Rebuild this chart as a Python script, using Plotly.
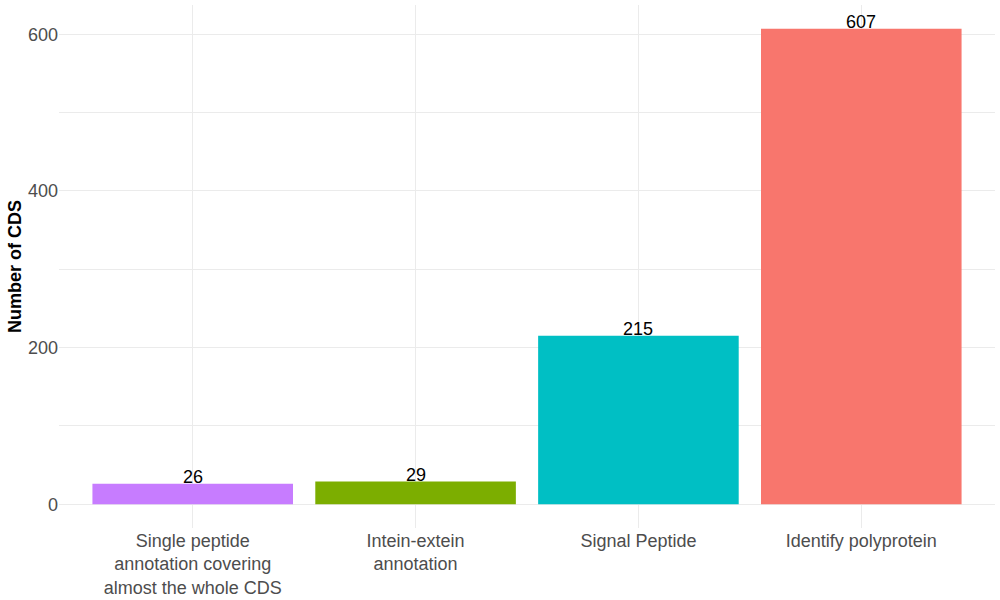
import plotly.graph_objects as go

categories = ["Single peptide<br>annotation covering<br>almost the whole CDS",
              "Intein-extein<br>annotation",
              "Signal Peptide",
              "Identify polyprotein"]
counts = [26, 29, 215, 607]
colors = ["#C77CFF", "#7CAE00", "#00BFC4", "#F8766D"]

fig = go.Figure(go.Bar(
    x=categories,
    y=counts,
    marker_color=colors,
    marker_line_width=0,
    width=0.9,
))

# count labels sitting on top of the bars
for c, v in zip(categories, counts):
    fig.add_annotation(x=c, y=v, text=str(v), showarrow=False,
                       yanchor="bottom", yshift=-5,
                       font=dict(size=18, color="black"))

fig.update_layout(
    width=1000, height=600,
    margin=dict(l=59, r=5, t=5, b=72),
    plot_bgcolor="white", paper_bgcolor="white",
    font=dict(family="Liberation Sans, Arial, sans-serif"),
    showlegend=False,
    xaxis=dict(
        range=[-0.6, 3.6],
        automargin=False,
        showgrid=True, gridcolor="#EBEBEB", gridwidth=1,
        zeroline=False, ticks="",
        tickfont=dict(size=18, color="#4D4D4D"),
    ),
    yaxis=dict(
        range=[-30.35, 637.35],
        automargin=False,
        tickvals=[0, 200, 400, 600],
        showgrid=True, gridcolor="#EBEBEB", gridwidth=1,
        minor=dict(tickvals=[100, 300, 500], showgrid=True,
                   gridcolor="#EBEBEB", gridwidth=0.8),
        zeroline=False, ticks="",
        tickfont=dict(size=18, color="#4D4D4D"),
        title=dict(text="<b>Number of CDS</b>", standoff=1,
                   font=dict(size=18, color="black")),
    ),
)

# page has a default body margin that shifts the figure
fig.write_html("out.html", config={"displayModeBar": False},
               post_script="document.body.style.margin='0';")
